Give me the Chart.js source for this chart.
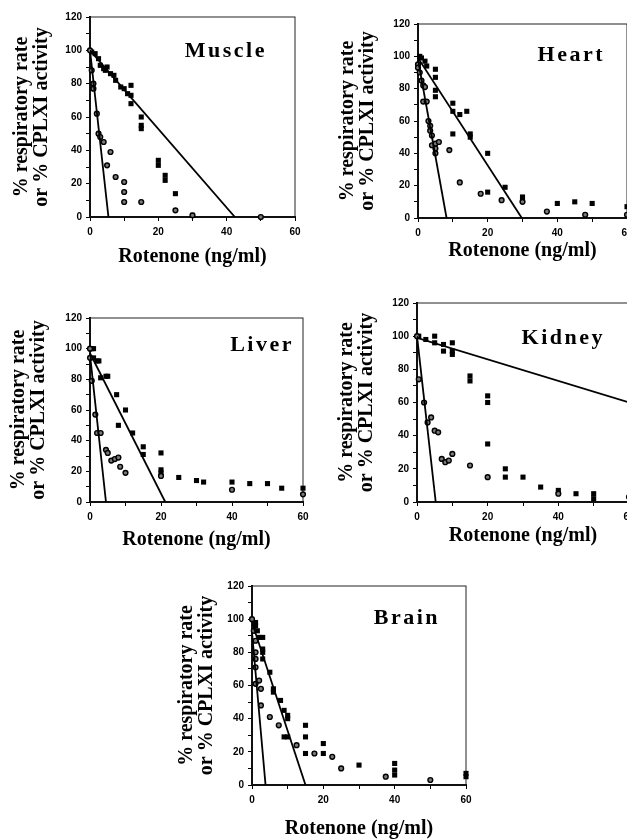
<!DOCTYPE html>
<html>
<head>
<meta charset="utf-8">
<script src="https://cdn.jsdelivr.net/npm/chart.js@4.4.1/dist/chart.umd.min.js"></script>
<style>
  html, body { margin: 0; padding: 0; background: #fff; overflow: hidden; }
  body { width: 627px; height: 840px; position: relative; }
  canvas { position: absolute; }
</style>
</head>
<body>
<canvas id="muscle"></canvas>
<canvas id="heart"></canvas>
<canvas id="liver"></canvas>
<canvas id="kidney"></canvas>
<canvas id="brain"></canvas>
<script>
// tick labels shared by all panels
const xTickLabels = [0, 20, 40, 60];
const yTickLabels = [0, 20, 40, 60, 80, 100, 120];

// Muscle
const muscleRateX = [0.5, 1.5, 2.5, 3, 4, 4.5, 5, 6, 7, 7.5, 9, 10, 11, 12, 12, 12, 15, 15, 15, 20, 20, 22, 22, 25, 30];
const muscleRateY = [99, 98, 95, 91, 89, 88, 90, 86, 85, 82, 78, 77, 74, 79, 73, 68, 60, 55, 53, 34, 31, 25, 22, 14, 1];
const muscleCplxX = [0, 0.5, 1, 1, 2, 2.5, 3, 4, 5, 6, 7.5, 10, 10, 10, 15, 25, 30, 50];
const muscleCplxY = [100, 88, 80, 77, 62, 50, 48, 45, 31, 39, 24, 21, 15, 9, 9, 4, 1, 0];
const muscleFitSteep = [{x: 0, y: 100}, {x: 5.4, y: 0}];
const muscleFitRate = [{x: 0, y: 100}, {x: 42.4, y: 0}];

// Heart
const heartRateX = [0.5, 1, 2, 2.5, 5, 5, 5, 5, 10, 10, 10, 12, 14, 15, 15, 20, 20, 25, 30, 30, 40, 45, 50, 60];
const heartRateY = [100, 99, 97, 94, 92, 87, 79, 75, 71, 66, 52, 64, 66, 52, 50, 40, 16, 19, 13, 11, 9, 10, 9, 7];
const heartCplxX = [0, 0, 0.5, 1, 1.5, 2, 1.5, 2.5, 3, 3.5, 3.5, 4, 4, 5, 6, 5, 5, 9, 12, 18, 24, 30, 37, 48, 60];
const heartCplxY = [95, 93, 90, 85, 82, 81, 72, 72, 60, 57, 54, 51, 45, 46, 47, 43, 40, 42, 22, 15, 11, 10, 4, 2, 2];
const heartFitSteep = [{x: 0, y: 98}, {x: 8.2, y: 0}];
const heartFitRate = [{x: 0, y: 99}, {x: 29.8, y: 0}];

// Liver
const liverRateX = [0.5, 1, 1, 2, 2.5, 3, 4.5, 5, 7.5, 10, 8, 12, 15, 15, 20, 20, 20, 25, 30, 32, 40, 45, 50, 54, 60];
const liverRateY = [100, 100, 94, 92, 92, 81, 82, 82, 70, 60, 50, 45, 36, 31, 32, 21, 19, 16, 14, 13, 13, 12, 12, 9, 9];
const liverCplxX = [0, 0, 0.5, 1.5, 2, 3, 4.5, 5, 6, 7, 8, 8.5, 10, 20, 40, 60];
const liverCplxY = [100, 94, 79, 57, 45, 45, 34, 32, 27, 28, 29, 23, 19, 17, 8, 5];
const liverFitSteep = [{x: 0, y: 96}, {x: 4.5, y: 0}];
const liverFitRate = [{x: 0, y: 97}, {x: 21.2, y: 0}];

// Kidney
const kidneyRateX = [0.5, 2.5, 5, 5, 7.5, 7.5, 10, 10, 10, 15, 15, 20, 20, 20, 25, 25, 30, 35, 40, 45, 50, 50];
const kidneyRateY = [100, 98, 100, 96, 95, 91, 96, 91, 89, 76, 73, 64, 60, 35, 20, 15, 15, 9, 7, 5, 5, 2];
const kidneyCplxX = [0, 0.5, 2, 3, 4, 5, 6, 7, 8, 9, 10, 15, 20, 40, 60];
const kidneyCplxY = [100, 74, 60, 48, 51, 43, 42, 26, 24, 25, 29, 22, 15, 5, 3];
const kidneyFitSteep = [{x: 0, y: 100}, {x: 5.3, y: 0}];
const kidneyFitRate = [{x: 0, y: 99}, {x: 60, y: 60}];

// Brain
const brainRateX = [1, 1, 1.5, 2, 3, 3, 3, 3, 5, 6, 6, 8, 9, 10, 10, 9, 10, 15, 15, 15, 20, 20, 30, 40, 40, 40, 60, 60];
const brainRateY = [98, 96, 93, 89, 89, 82, 80, 76, 68, 58, 56, 51, 45, 42, 40, 29, 29, 36, 29, 19, 25, 19, 12, 13, 9, 6, 7, 5];
const brainCplxX = [0, 0.5, 1, 1, 1, 1, 1, 2, 2.5, 2.5, 5, 7.5, 12.5, 17.5, 22.5, 25, 37.5, 50];
const brainCplxY = [100, 93, 87, 80, 76, 71, 61, 63, 58, 48, 41, 36, 24, 19, 17, 10, 5, 3];
const brainFitSteep = [{x: 0, y: 92}, {x: 3.8, y: 0}];
const brainFitRate = [{x: 0, y: 98}, {x: 15, y: 0}];

const pts = (xs, ys) => xs.map((x, i) => ({x: x, y: ys[i]}));

// frame round the plot + the organ name in the top right corner
const panelDecor = {
  id: 'panelDecor',
  beforeDatasetsDraw(chart, args, opts) {
    const {ctx, chartArea: a} = chart;
    ctx.save();
    ctx.strokeStyle = '#222';
    ctx.lineWidth = 1;
    ctx.strokeRect(a.left, a.top, a.right - a.left, a.bottom - a.top);
    ctx.restore();
  },
  afterDraw(chart, args, opts) {
    const {ctx, chartArea: a} = chart;
    ctx.save();
    ctx.font = 'bold 22px "Liberation Serif"';
    ctx.letterSpacing = '2.5px';
    ctx.textAlign = 'right';
    ctx.textBaseline = 'alphabetic';
    ctx.fillStyle = '#000';
    ctx.fillText(opts.name, a.right - opts.dx, a.top + opts.dy);
    ctx.restore();
  }
};
Chart.register(panelDecor);

function noPad(s) {
  s.paddingLeft = 0; s.paddingRight = 0; s.paddingTop = 0; s.paddingBottom = 0;
}

function makePanel(id, name, box, rateX, rateY, cplxX, cplxY, fitSteep, fitRate) {
  const cv = document.getElementById(id);
  cv.width = box.w; cv.height = box.h;
  cv.style.left = box.left + 'px';
  cv.style.top = box.top + 'px';
  cv.style.width = box.w + 'px';
  cv.style.height = box.h + 'px';

  const tickFont = {family: 'Liberation Sans', weight: 'bold', size: 10};

  new Chart(cv, {
    type: 'scatter',
    data: {
      datasets: [
        {
          data: fitSteep, showLine: true, borderColor: '#000', borderWidth: 1.8,
          pointRadius: 0, fill: false
        },
        {
          data: fitRate, showLine: true, borderColor: '#000', borderWidth: 1.8,
          pointRadius: 0, fill: false
        },
        {
          data: pts(cplxX, cplxY), pointStyle: 'circle', pointRadius: 2.4,
          backgroundColor: '#7a7a7a', borderColor: '#000', borderWidth: 1.4, clip: false
        },
        {
          data: pts(rateX, rateY), pointStyle: 'rect', pointRadius: 3.6,
          backgroundColor: '#000', borderColor: '#000', borderWidth: 0, clip: false
        }
      ]
    },
    options: {
      responsive: false,
      animation: false,
      devicePixelRatio: 1,
      layout: {padding: {top: box.padTop, right: box.padRight, left: 0, bottom: 0}},
      plugins: {
        legend: {display: false},
        tooltip: {enabled: false},
        panelDecor: {name: name, dx: box.nameDx, dy: box.nameDy}
      },
      scales: {
        x: {
          type: 'linear', min: 0, max: 60,
          ticks: {
            stepSize: 10, autoSkip: false, maxRotation: 0, color: '#000',
            font: tickFont, padding: 5,
            callback: v => xTickLabels.includes(v) ? v : ''
          },
          grid: {drawOnChartArea: false, tickLength: 4, color: '#000'},
          border: {color: '#000', width: 2},
          title: {
            display: true, text: 'Rotenone (ng/ml)', color: '#000',
            font: {family: 'Liberation Serif', weight: 'bold', size: 20, lineHeight: 1.1},
            padding: {top: 0, bottom: box.xTitlePad}
          },
          afterFit(s) { s.height = box.xh; noPad(s); }
        },
        y: {
          type: 'linear', min: 0, max: 120,
          ticks: {
            stepSize: 10, autoSkip: false, color: '#000',
            font: tickFont, padding: 4,
            callback: v => yTickLabels.includes(v) ? v : ''
          },
          grid: {drawOnChartArea: false, tickLength: 4, color: '#000'},
          border: {color: '#000', width: 2},
          title: {
            display: true, text: ['% respiratory rate', 'or % CPLXI activity'], color: '#000',
            font: {family: 'Liberation Serif', weight: 'bold', size: 20, lineHeight: 1.0},
            padding: {top: box.yTitlePad, bottom: 0}
          },
          afterFit(s) { s.width = box.yw; noPad(s); }
        }
      }
    }
  });
}

makePanel('muscle', 'Muscle',
  {left: 0, top: 0, w: 310, h: 275, padTop: 17, padRight: 15, yw: 90, xh: 58, yTitlePad: 12, xTitlePad: 7, nameDx: 28, nameDy: 40},
  muscleRateX, muscleRateY, muscleCplxX, muscleCplxY, muscleFitSteep, muscleFitRate);

makePanel('heart', 'Heart',
  {left: 310, top: 0, w: 340, h: 275, padTop: 24, padRight: 23, yw: 108, xh: 57, yTitlePad: 28, xTitlePad: 13, nameDx: 22, nameDy: 37},
  heartRateX, heartRateY, heartCplxX, heartCplxY, heartFitSteep, heartFitRate);

makePanel('liver', 'Liver',
  {left: 0, top: 290, w: 320, h: 265, padTop: 28, padRight: 17, yw: 90, xh: 53, yTitlePad: 9, xTitlePad: 4.5, nameDx: 9, nameDy: 33},
  liverRateX, liverRateY, liverCplxX, liverCplxY, liverFitSteep, liverFitRate);

makePanel('kidney', 'Kidney',
  {left: 310, top: 290, w: 340, h: 265, padTop: 13, padRight: 21, yw: 107, xh: 53, yTitlePad: 27, xTitlePad: 8, nameDx: 24, nameDy: 41},
  kidneyRateX, kidneyRateY, kidneyCplxX, kidneyCplxY, kidneyFitSteep, kidneyFitRate);

makePanel('brain', 'Brain',
  {left: 150, top: 570, w: 330, h: 270, padTop: 16, padRight: 14, yw: 102, xh: 55, yTitlePad: 27, xTitlePad: 0.5, nameDx: 26, nameDy: 38},
  brainRateX, brainRateY, brainCplxX, brainCplxY, brainFitSteep, brainFitRate);
</script>
</body>
</html>
